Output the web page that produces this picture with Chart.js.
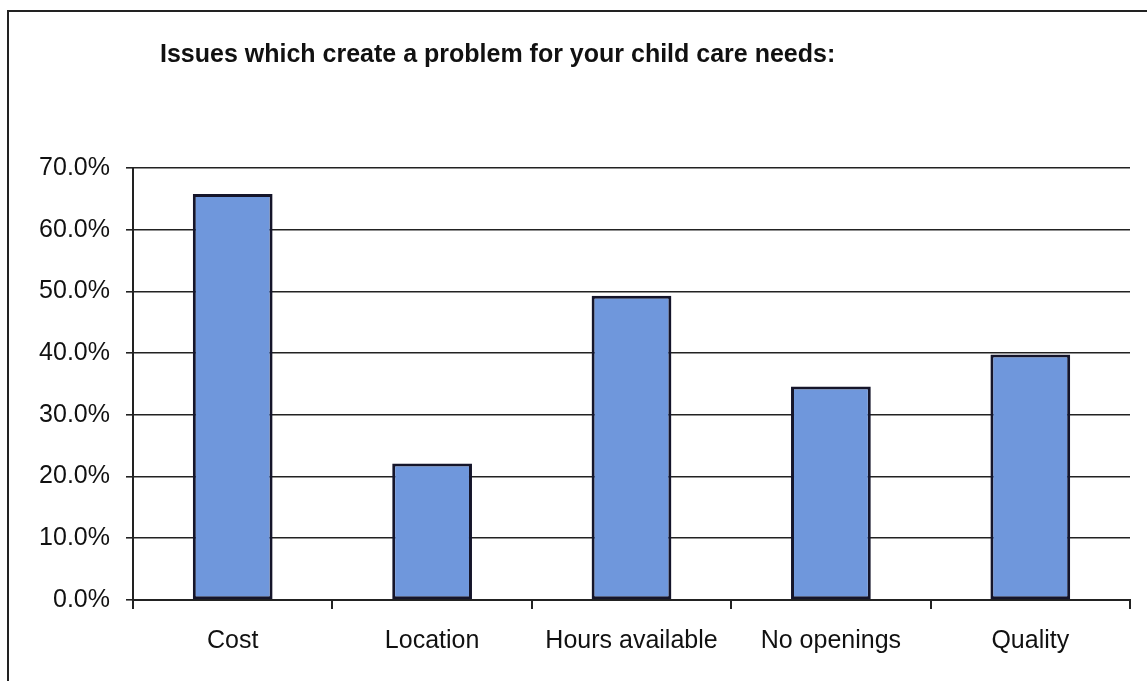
<!DOCTYPE html>
<html>
<head>
<meta charset="utf-8">
<script src="https://cdn.jsdelivr.net/npm/chart.js@4"></script>
<style>
  html, body { margin: 0; padding: 0; background: #fff; }
  #grafico { display: block; }
</style>
</head>
<body>
<canvas id="grafico" width="1147" height="681"></canvas>
<script>
const titulo = 'Issues which create a problem for your child care needs:';
const categorias = ['Cost', 'Location', 'Hours available', 'No openings', 'Quality'];
const valores = [65.8, 22.1, 49.3, 34.6, 39.8];
const ticksY = [0, 10, 20, 30, 40, 50, 60, 70];

// moldura e titulo desenhados por cima do canvas
const molduraTitulo = {
  id: 'molduraTitulo',
  afterDraw(chart) {
    const ctx = chart.ctx;
    ctx.save();
    ctx.strokeStyle = '#222';
    ctx.lineWidth = 2;
    ctx.beginPath();
    ctx.moveTo(8, 681);
    ctx.lineTo(8, 11);
    ctx.lineTo(1147, 11);
    ctx.stroke();
    ctx.fillStyle = '#111';
    ctx.font = 'bold 25px "Liberation Sans", Arial, sans-serif';
    ctx.textBaseline = 'middle';
    ctx.fillText(titulo, 160, 55);
    ctx.restore();
  }
};

const fonte = '"Liberation Sans", Arial, sans-serif';

const ctx = document.getElementById('grafico').getContext('2d');
new Chart(ctx, {
  type: 'bar',
  data: {
    labels: categorias,
    datasets: [{
      data: valores,
      backgroundColor: '#6f97dc',
      borderColor: '#15152a',
      borderWidth: 3,
      borderSkipped: false,
      barPercentage: 0.4,
      categoryPercentage: 1
    }]
  },
  options: {
    responsive: false,
    animation: false,
    layout: { padding: { left: 0, top: 168, right: 17, bottom: 0 } },
    plugins: {
      legend: { display: false },
      title: { display: false },
      tooltip: { enabled: false }
    },
    scales: {
      x: {
        afterFit: s => { s.height = 81; },
        grid: {
          offset: true,
          drawOnChartArea: false,
          drawTicks: true,
          tickLength: 9,
          color: '#222',
          lineWidth: 2
        },
        border: { display: true, color: '#222', width: 2 },
        ticks: {
          color: '#111',
          padding: 17,
          font: { family: fonte, size: 25 }
        }
      },
      y: {
        min: 0,
        max: 70,
        afterFit: s => { s.width = 133; },
        afterBuildTicks: s => { s.ticks = ticksY.map(v => ({ value: v })); },
        grid: {
          color: '#222',
          lineWidth: 1.6,
          drawTicks: true,
          tickLength: 7
        },
        border: { display: true, color: '#222', width: 2 },
        ticks: {
          color: '#111',
          padding: 16,
          font: { family: fonte, size: 25 },
          callback: v => v.toFixed(1) + '%'
        }
      }
    }
  },
  plugins: [molduraTitulo]
});
</script>
</body>
</html>
